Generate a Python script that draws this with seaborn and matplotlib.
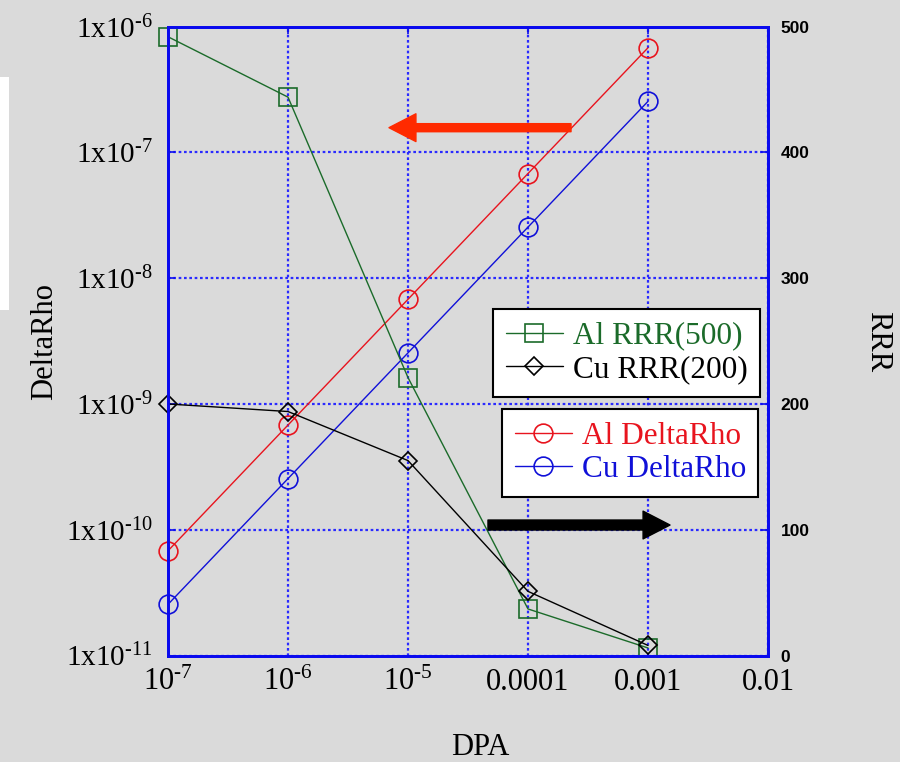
import matplotlib
matplotlib.use("Agg")
import matplotlib.pyplot as plt
from matplotlib.lines import Line2D
from matplotlib.patches import Rectangle
from matplotlib.ticker import FixedLocator, FixedFormatter, NullLocator
import seaborn as sns
import numpy as np

# ---- data ----
dpa = [1e-7, 1e-6, 1e-5, 1e-4, 1e-3]
al_rrr = [492, 444, 221, 37, 6]
cu_rrr = [200, 194, 155, 51, 8]
al_deltarho = [6.8e-11, 6.8e-10, 6.8e-9, 6.8e-8, 6.8e-7]
cu_deltarho = [2.55e-11, 2.55e-10, 2.55e-9, 2.55e-8, 2.55e-7]

HY = "\u2010"
x_ticks = [1e-7, 1e-6, 1e-5, 1e-4, 1e-3, 1e-2]
x_tick_labels = [r"$\mathregular{10^{%s7}}$" % HY, r"$\mathregular{10^{%s6}}$" % HY,
                 r"$\mathregular{10^{%s5}}$" % HY, "0.0001", "0.001", "0.01"]
y_ticks = [1e-11, 1e-10, 1e-9, 1e-8, 1e-7, 1e-6]
y_tick_labels = [r"$\mathregular{1x10^{%s11}}$" % HY, r"$\mathregular{1x10^{%s10}}$" % HY,
                 r"$\mathregular{1x10^{%s9}}$" % HY, r"$\mathregular{1x10^{%s8}}$" % HY,
                 r"$\mathregular{1x10^{%s7}}$" % HY, r"$\mathregular{1x10^{%s6}}$" % HY]
rrr_ticks = [0, 100, 200, 300, 400, 500]

# ---- style ----
sns.set_theme(style="white")
plt.rcParams["font.family"] = ["Liberation Serif", "DejaVu Serif"]
plt.rcParams["mathtext.fontset"] = "custom"
plt.rcParams["mathtext.rm"] = "Liberation Serif"
plt.rcParams["text.color"] = "black"
plt.rcParams["axes.labelcolor"] = "black"

BG = "#dadada"
AXBLUE = "#0a0aee"
GRIDBLUE = "#2a2aff"
GREEN = "#1b6b2a"
RED = "#e8141e"
BLUE = "#1010d8"
ARROWRED = "#ff2a00"

fig = plt.figure(figsize=(9, 7.62), dpi=100, facecolor=BG)
fig.patches.append(Rectangle((0, 1 - 310 / 762), 9 / 900, (310 - 77) / 762,
                             transform=fig.transFigure, facecolor="white", edgecolor="none", zorder=0))

ax = fig.add_axes([168 / 900, 1 - 655.5 / 762, 600 / 900, (655.5 - 26.7) / 762])
ax.set_facecolor(BG)
ax.set_xscale("log")
ax.set_yscale("log")
ax.set_xlim(1e-7, 1e-2)
ax.set_ylim(1e-11, 1e-6)

ax2 = ax.twinx()
ax2.set_ylim(0, 500)

mk = dict(markerfacecolor="none", markeredgewidth=1.2, linewidth=1.0, clip_on=False)

sns.lineplot(x=dpa, y=al_deltarho, ax=ax, color=RED, marker="o", markersize=13.5,
             markeredgecolor=RED, legend=False, **mk)
sns.lineplot(x=dpa, y=cu_deltarho, ax=ax, color=BLUE, marker="o", markersize=13.5,
             markeredgecolor=BLUE, legend=False, **mk)
sns.lineplot(x=dpa, y=al_rrr, ax=ax2, color=GREEN, marker="s", markersize=12.5,
             markeredgecolor=GREEN, legend=False, **mk)
sns.lineplot(x=dpa, y=cu_rrr, ax=ax2, color="black", marker="D", markersize=9.2,
             markeredgecolor="black", legend=False, **mk)

for a in (ax, ax2):
    a.set_xlim(1e-7, 1e-2)
ax.set_ylim(1e-11, 1e-6)
ax2.set_ylim(0, 500)

# grid
ax.xaxis.set_major_locator(FixedLocator(x_ticks))
ax.xaxis.set_major_formatter(FixedFormatter(x_tick_labels))
ax.xaxis.set_minor_locator(NullLocator())
ax.yaxis.set_major_locator(FixedLocator(y_ticks))
ax.yaxis.set_major_formatter(FixedFormatter(y_tick_labels))
ax.yaxis.set_minor_locator(NullLocator())
ax.grid(True, which="major", color=GRIDBLUE, linestyle=(0, (1.2, 1.2)), linewidth=1.6)
ax.set_axisbelow(True)

ax2.yaxis.set_major_locator(FixedLocator(rrr_ticks))
ax2.yaxis.set_minor_locator(NullLocator())
ax2.grid(False)

for a in (ax, ax2):
    for s in a.spines.values():
        s.set_color(AXBLUE)
        s.set_linewidth(2.0)

ax.tick_params(axis="x", which="major", direction="in", length=5, width=1.2, color=AXBLUE,
               top=True, labelsize=22, pad=9, labelcolor="black")
ax.tick_params(axis="y", which="major", direction="in", length=5, width=1.2, color=AXBLUE,
               labelsize=21, pad=11, labelcolor="black")
ax2.tick_params(axis="y", which="major", direction="in", length=5, width=1.2, color=AXBLUE,
                pad=9, labelcolor="black")
for lbl in ax2.get_yticklabels():
    lbl.set_fontfamily(["Liberation Sans", "DejaVu Sans"])
    lbl.set_fontweight("bold")
    lbl.set_fontsize(12.5)

# axis labels
ax.set_xlabel("DPA", fontsize=22, va="center", color="black")
ax.xaxis.set_label_coords(0.52, -0.146)
ax.set_ylabel("DeltaRho", fontsize=22, va="center", color="black")
ax.yaxis.set_label_coords(-0.205, 0.5)
ax2.set_ylabel("RRR", fontsize=22, rotation=270, va="center", color="black")
ax2.yaxis.set_label_coords(1.183, 0.5)

# arrows
ax2.annotate("", xy=(0.3683, 0.8394), xytext=(0.6717, 0.8394), xycoords="axes fraction",
             arrowprops=dict(arrowstyle="simple,head_length=0.97,head_width=1.0,tail_width=0.29",
                             mutation_scale=20, color=ARROWRED, shrinkA=0, shrinkB=0), zorder=10)
ax2.annotate("", xy=(0.8367, 0.2075), xytext=(0.5333, 0.2075), xycoords="axes fraction",
             arrowprops=dict(arrowstyle="simple,head_length=0.97,head_width=1.0,tail_width=0.36",
                             mutation_scale=20, color="black", shrinkA=0, shrinkB=0), zorder=10)

# legends
def h(color, marker, ms):
    return Line2D([], [], color=color, marker=marker, markersize=ms, markerfacecolor="none",
                  markeredgecolor=color, markeredgewidth=1.2, linewidth=1.0)

leg_kw = dict(fontsize=22.5, frameon=True, fancybox=False, framealpha=1, edgecolor="black",
              facecolor="white", loc="upper left", bbox_transform=fig.transFigure, borderaxespad=0,
              handlelength=1.85, handletextpad=0.3, labelspacing=0.15, borderpad=0.4)
leg1 = ax2.legend([h(GREEN, "s", 12.5), h("black", "D", 9.2)], ["Al RRR(500)", "Cu RRR(200)"],
                  bbox_to_anchor=(493 / 900, 1 - 309 / 762), labelcolor=[GREEN, "black"], **leg_kw)
leg1.get_frame().set_linewidth(1.5)
leg1.set_zorder(20)
ax2.add_artist(leg1)
leg2 = ax2.legend([h(RED, "o", 13.5), h(BLUE, "o", 13.5)], ["Al DeltaRho", "Cu DeltaRho"],
                  bbox_to_anchor=(502 / 900, 1 - 409 / 762), labelcolor=[RED, BLUE], **leg_kw)
leg2.get_frame().set_linewidth(1.5)
leg2.set_zorder(20)

fig.savefig("out.png", dpi=100, facecolor=BG)
